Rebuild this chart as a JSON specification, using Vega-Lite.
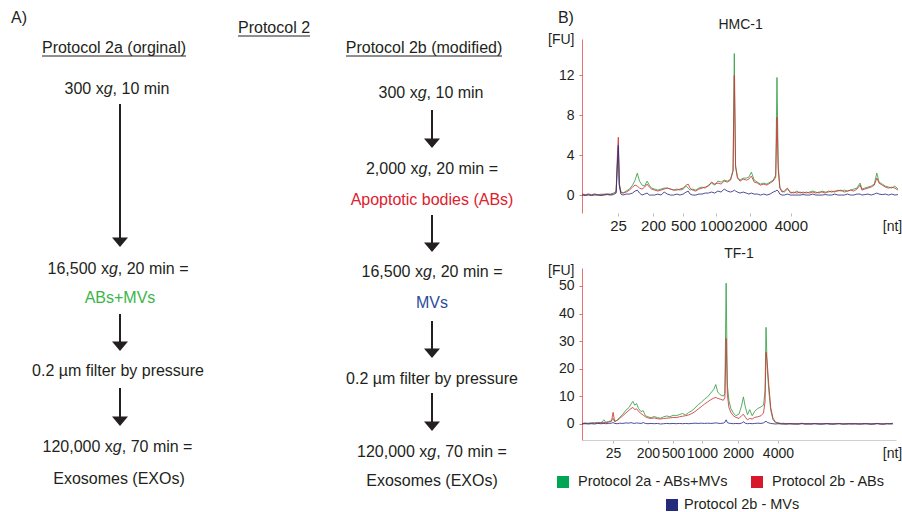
{
  "$schema": "https://vega.github.io/schema/vega-lite/v6.json",
  "background": "white",
  "padding": 0,
  "spacing": 7,
  "resolve": {"scale": {"color": "independent"}},
  "config": {
    "font": "Liberation Sans",
    "view": {"stroke": null},
    "axis": {"labelFont": "Liberation Sans", "titleFont": "Liberation Sans", "labelColor": "#231f20", "titleColor": "#231f20", "labelFontSize": 14, "titleFontSize": 14, "titleFontWeight": "normal", "grid": false},
    "title": {"font": "Liberation Sans", "fontSize": 14, "fontWeight": "normal", "color": "#231f20", "offset": 2},
    "text": {"font": "Liberation Sans", "color": "#231f20"}
  },
  "datasets": {
    "underlines": [
      {"x1": 238, "x2": 310, "y": 35},
      {"x1": 42, "x2": 186, "y": 55},
      {"x1": 346, "x2": 502, "y": 55}
    ],
    "arrows": [
      {"x": 120, "y1": 103, "y2": 238, "yh": 241.2},
      {"x": 120, "y1": 313, "y2": 342, "yh": 345.2},
      {"x": 120, "y1": 387, "y2": 417, "yh": 420.2},
      {"x": 432, "y1": 109, "y2": 139, "yh": 142.2},
      {"x": 432, "y1": 214, "y2": 243, "yh": 246.2},
      {"x": 432, "y1": 320, "y2": 349, "yh": 352.2},
      {"x": 432, "y1": 392, "y2": 422, "yh": 425.2}
    ],
    "labels": [
      {"x": 19, "y": 17, "text": "A)", "kind": "step"},
      {"x": 274, "y": 27, "text": "Protocol 2", "kind": "step"},
      {"x": 114, "y": 47, "text": "Protocol 2a (orginal)", "kind": "step"},
      {"x": 424, "y": 47, "text": "Protocol 2b (modified)", "kind": "step"},
      {"x": 120, "y": 297, "text": "ABs+MVs", "kind": "mix"},
      {"x": 118, "y": 370, "text": "0.2 µm filter by pressure", "kind": "step"},
      {"x": 119, "y": 478, "text": "Exosomes (EXOs)", "kind": "step"},
      {"x": 432, "y": 199, "text": "Apoptotic bodies (ABs)", "kind": "abs"},
      {"x": 432, "y": 302, "text": "MVs", "kind": "mvs"},
      {"x": 432, "y": 378, "text": "0.2 µm filter by pressure", "kind": "step"},
      {"x": 432, "y": 480, "text": "Exosomes (EXOs)", "kind": "step"}
    ],
    "glines": [
      {"xg": 103.7, "y": 88, "pre": "300 x", "post": ", 10 min"},
      {"xg": 108.9, "y": 268, "pre": "16,500 x", "post": ", 20 min ="},
      {"xg": 112.85, "y": 446, "pre": "120,000 x", "post": ", 70 min ="},
      {"xg": 417.7, "y": 92, "pre": "300 x", "post": ", 10 min"},
      {"xg": 418.45, "y": 168, "pre": "2,000 x", "post": ", 20 min ="},
      {"xg": 422.9, "y": 271, "pre": "16,500 x", "post": ", 20 min ="},
      {"xg": 427.35, "y": 451, "pre": "120,000 x", "post": ", 70 min ="}
    ],
    "hmcText": [
      {"t": -5.1, "fu": 17.8, "label": "B)", "role": "panel"},
      {"t": 50.2, "fu": 17.07, "label": "HMC-1", "role": "title"}
    ],
    "hmc": [
      {"t": 0, "g": 0.1, "r": 0.1, "b": 0.0},
      {"t": 1, "g": 0.0, "r": 0.05, "b": -0.05},
      {"t": 2, "g": 0.1, "r": 0.1, "b": 0.0},
      {"t": 3, "g": 0.05, "r": 0.0, "b": -0.05},
      {"t": 4, "g": 0.1, "r": 0.1, "b": 0.0},
      {"t": 5, "g": 0.0, "r": 0.05, "b": 0.0},
      {"t": 6, "g": 0.1, "r": 0.0, "b": -0.05},
      {"t": 7, "g": 0.05, "r": 0.1, "b": 0.0},
      {"t": 8, "g": 0.1, "r": 0.1, "b": 0.05},
      {"t": 9, "g": 0.1, "r": 0.05, "b": 0.0},
      {"t": 10, "g": 0.2, "r": 0.15, "b": 0.05},
      {"t": 10.8, "g": 0.3, "r": 0.4, "b": 0.2},
      {"t": 11.2, "g": 3.0, "r": 4.0, "b": 3.2},
      {"t": 11.5, "g": 4.8, "r": 5.8, "b": 5.0},
      {"t": 11.8, "g": 1.0, "r": 1.2, "b": 1.0},
      {"t": 12.3, "g": 0.3, "r": 0.3, "b": 0.1},
      {"t": 13, "g": 0.2, "r": 0.2, "b": 0.0},
      {"t": 14, "g": 0.4, "r": 0.3, "b": 0.1},
      {"t": 15, "g": 0.6, "r": 0.5, "b": 0.1},
      {"t": 16, "g": 1.0, "r": 0.8, "b": 0.2},
      {"t": 16.8, "g": 1.5, "r": 1.0, "b": 0.4},
      {"t": 17.5, "g": 2.2, "r": 0.9, "b": 0.5},
      {"t": 18.2, "g": 1.4, "r": 0.7, "b": 0.2},
      {"t": 19, "g": 1.0, "r": 0.6, "b": 0.0},
      {"t": 19.8, "g": 0.9, "r": 0.8, "b": 0.1},
      {"t": 20.6, "g": 1.4, "r": 1.1, "b": 0.2},
      {"t": 21.3, "g": 1.0, "r": 0.8, "b": 0.0},
      {"t": 22, "g": 0.7, "r": 0.6, "b": 0.0},
      {"t": 23, "g": 0.6, "r": 0.5, "b": 0.0},
      {"t": 24, "g": 0.5, "r": 0.4, "b": 0.1},
      {"t": 25, "g": 0.6, "r": 0.5, "b": 0.0},
      {"t": 26, "g": 0.7, "r": 0.6, "b": 0.3},
      {"t": 27, "g": 0.7, "r": 0.7, "b": 0.1},
      {"t": 28, "g": 0.6, "r": 0.6, "b": 0.0},
      {"t": 29, "g": 0.5, "r": 0.5, "b": 0.0},
      {"t": 30, "g": 0.6, "r": 0.5, "b": 0.1},
      {"t": 31, "g": 0.5, "r": 0.6, "b": 0.0},
      {"t": 32, "g": 0.6, "r": 0.7, "b": 0.1},
      {"t": 33, "g": 0.9, "r": 1.0, "b": 0.3},
      {"t": 33.6, "g": 0.7, "r": 1.1, "b": 0.4},
      {"t": 34.2, "g": 0.5, "r": 0.7, "b": 0.1},
      {"t": 35, "g": 0.6, "r": 0.5, "b": 0.0},
      {"t": 36, "g": 0.5, "r": 0.4, "b": 0.0},
      {"t": 37, "g": 0.7, "r": 0.6, "b": 0.1},
      {"t": 38, "g": 0.8, "r": 0.7, "b": 0.1},
      {"t": 39, "g": 0.7, "r": 0.8, "b": 0.2},
      {"t": 40, "g": 1.0, "r": 0.9, "b": 0.2},
      {"t": 41, "g": 1.2, "r": 1.3, "b": 0.3},
      {"t": 42, "g": 1.0, "r": 1.1, "b": 0.2},
      {"t": 43, "g": 1.4, "r": 1.2, "b": 0.4},
      {"t": 44, "g": 1.3, "r": 1.1, "b": 0.3},
      {"t": 45, "g": 1.5, "r": 1.4, "b": 0.6},
      {"t": 46, "g": 1.4, "r": 1.3, "b": 0.4},
      {"t": 47, "g": 1.6, "r": 1.5, "b": 0.3},
      {"t": 47.8, "g": 2.5, "r": 2.4, "b": 0.4},
      {"t": 48.2, "g": 14.2, "r": 12.0, "b": 0.5},
      {"t": 48.6, "g": 3.0, "r": 2.8, "b": 0.4},
      {"t": 49.2, "g": 1.8, "r": 1.7, "b": 0.3},
      {"t": 50, "g": 1.5, "r": 1.4, "b": 0.2},
      {"t": 51, "g": 1.7, "r": 1.6, "b": 0.3},
      {"t": 52, "g": 1.7, "r": 1.5, "b": 0.2},
      {"t": 52.8, "g": 1.8, "r": 1.6, "b": 0.1},
      {"t": 53.6, "g": 2.3, "r": 1.9, "b": 0.2},
      {"t": 54.5, "g": 1.5, "r": 1.3, "b": 0.1},
      {"t": 55.5, "g": 1.3, "r": 1.2, "b": 0.1},
      {"t": 56.5, "g": 1.1, "r": 1.0, "b": 0.0},
      {"t": 57.5, "g": 1.2, "r": 1.1, "b": 0.1},
      {"t": 58.5, "g": 1.1, "r": 1.0, "b": 0.0},
      {"t": 59.5, "g": 1.3, "r": 1.2, "b": 0.1},
      {"t": 60.5, "g": 1.5, "r": 1.4, "b": 0.3},
      {"t": 61.3, "g": 2.0, "r": 1.8, "b": 0.4},
      {"t": 61.7, "g": 11.8, "r": 7.8, "b": 0.5},
      {"t": 62.1, "g": 3.0, "r": 2.5, "b": 0.4},
      {"t": 62.6, "g": 0.8, "r": 0.7, "b": 0.1},
      {"t": 63.3, "g": 0.4, "r": 0.3, "b": 0.0},
      {"t": 64, "g": 0.3, "r": 0.4, "b": 0.0},
      {"t": 65, "g": 0.6, "r": 0.7, "b": 0.1},
      {"t": 66, "g": 0.3, "r": 0.2, "b": 0.0},
      {"t": 67, "g": 0.2, "r": 0.3, "b": 0.0},
      {"t": 68, "g": 0.4, "r": 0.2, "b": 0.0},
      {"t": 69, "g": 0.2, "r": 0.3, "b": 0.0},
      {"t": 70, "g": 0.3, "r": 0.2, "b": 0.05},
      {"t": 71, "g": 0.2, "r": 0.3, "b": 0.0},
      {"t": 72, "g": 0.3, "r": 0.2, "b": 0.0},
      {"t": 73, "g": 0.4, "r": 0.3, "b": 0.1},
      {"t": 74, "g": 0.3, "r": 0.2, "b": 0.0},
      {"t": 75, "g": 0.2, "r": 0.3, "b": 0.0},
      {"t": 76, "g": 0.4, "r": 0.3, "b": 0.0},
      {"t": 77, "g": 0.3, "r": 0.2, "b": 0.05},
      {"t": 78, "g": 0.3, "r": 0.4, "b": 0.0},
      {"t": 79, "g": 0.4, "r": 0.3, "b": 0.0},
      {"t": 80, "g": 0.3, "r": 0.4, "b": 0.1},
      {"t": 81, "g": 0.5, "r": 0.4, "b": 0.0},
      {"t": 82, "g": 0.4, "r": 0.5, "b": 0.0},
      {"t": 83, "g": 0.5, "r": 0.3, "b": 0.0},
      {"t": 84, "g": 0.4, "r": 0.4, "b": 0.1},
      {"t": 85, "g": 0.5, "r": 0.5, "b": 0.0},
      {"t": 86, "g": 0.6, "r": 0.4, "b": 0.0},
      {"t": 87, "g": 0.7, "r": 0.6, "b": 0.1},
      {"t": 88, "g": 1.2, "r": 1.0, "b": 0.1},
      {"t": 88.6, "g": 0.6, "r": 0.5, "b": 0.0},
      {"t": 89.5, "g": 0.7, "r": 0.6, "b": 0.05},
      {"t": 90.5, "g": 0.8, "r": 0.7, "b": 0.1},
      {"t": 91.5, "g": 0.9, "r": 0.8, "b": 0.0},
      {"t": 92.5, "g": 1.1, "r": 1.0, "b": 0.1},
      {"t": 93.3, "g": 2.2, "r": 1.7, "b": 0.2},
      {"t": 94, "g": 1.3, "r": 1.2, "b": 0.1},
      {"t": 95, "g": 1.1, "r": 1.0, "b": 0.05},
      {"t": 96, "g": 0.9, "r": 0.8, "b": 0.1},
      {"t": 97, "g": 0.8, "r": 0.7, "b": 0.0},
      {"t": 98, "g": 0.7, "r": 0.8, "b": 0.1},
      {"t": 99, "g": 0.9, "r": 0.7, "b": 0.0},
      {"t": 100, "g": 0.6, "r": 0.5, "b": 0.05}
    ],
    "tf1": [
      {"t": 0, "g": 0.2, "r": 0.1, "b": 0.0},
      {"t": 1, "g": 0.4, "r": 0.2, "b": 0.1},
      {"t": 2, "g": 0.1, "r": 0.3, "b": 0.0},
      {"t": 3, "g": 0.5, "r": 0.2, "b": 0.1},
      {"t": 4, "g": 0.3, "r": 0.4, "b": 0.0},
      {"t": 5, "g": 0.6, "r": 0.3, "b": 0.2},
      {"t": 6, "g": 0.4, "r": 0.5, "b": 0.1},
      {"t": 7, "g": 1.5, "r": 0.6, "b": 0.2},
      {"t": 7.6, "g": 0.6, "r": 0.5, "b": 0.1},
      {"t": 8.5, "g": 0.9, "r": 0.7, "b": 0.2},
      {"t": 9.4, "g": 1.2, "r": 1.0, "b": 0.3},
      {"t": 9.9, "g": 2.0, "r": 4.2, "b": 0.5},
      {"t": 10.4, "g": 0.8, "r": 1.0, "b": 0.2},
      {"t": 11.2, "g": 1.4, "r": 1.3, "b": 0.1},
      {"t": 12, "g": 2.4, "r": 2.0, "b": 0.3},
      {"t": 13, "g": 3.5, "r": 3.0, "b": 0.2},
      {"t": 14, "g": 5.0, "r": 4.0, "b": 0.4},
      {"t": 15, "g": 6.0, "r": 5.0, "b": 0.3},
      {"t": 15.6, "g": 7.2, "r": 5.6, "b": 0.5},
      {"t": 16.2, "g": 8.2, "r": 6.0, "b": 0.3},
      {"t": 16.8, "g": 6.8, "r": 5.2, "b": 0.2},
      {"t": 17.4, "g": 7.4, "r": 5.5, "b": 0.4},
      {"t": 18, "g": 5.6, "r": 4.6, "b": 0.3},
      {"t": 18.8, "g": 4.5, "r": 3.8, "b": 0.2},
      {"t": 19.5, "g": 4.8, "r": 3.2, "b": 0.5},
      {"t": 20.2, "g": 3.0, "r": 2.6, "b": 0.2},
      {"t": 21, "g": 2.6, "r": 2.2, "b": 0.1},
      {"t": 22, "g": 2.3, "r": 2.0, "b": 0.2},
      {"t": 23, "g": 2.7, "r": 2.2, "b": 0.1},
      {"t": 24, "g": 2.3, "r": 1.9, "b": 0.2},
      {"t": 25, "g": 2.1, "r": 1.8, "b": 0.0},
      {"t": 26, "g": 2.6, "r": 2.0, "b": 0.1},
      {"t": 27, "g": 2.9, "r": 2.1, "b": 0.2},
      {"t": 28, "g": 2.6, "r": 2.2, "b": 0.1},
      {"t": 29, "g": 3.2, "r": 2.4, "b": 0.2},
      {"t": 30, "g": 3.0, "r": 2.3, "b": 0.1},
      {"t": 31, "g": 3.4, "r": 2.6, "b": 0.2},
      {"t": 32, "g": 3.8, "r": 2.8, "b": 0.1},
      {"t": 33, "g": 3.3, "r": 3.0, "b": 0.2},
      {"t": 34, "g": 4.2, "r": 3.3, "b": 0.1},
      {"t": 35, "g": 4.8, "r": 3.8, "b": 0.2},
      {"t": 36, "g": 5.8, "r": 4.5, "b": 0.3},
      {"t": 37, "g": 7.0, "r": 5.4, "b": 0.2},
      {"t": 38, "g": 7.8, "r": 6.3, "b": 0.3},
      {"t": 39, "g": 9.0, "r": 7.2, "b": 0.2},
      {"t": 40, "g": 9.8, "r": 8.0, "b": 0.3},
      {"t": 41, "g": 11.2, "r": 8.8, "b": 0.2},
      {"t": 42, "g": 12.6, "r": 9.4, "b": 0.3},
      {"t": 42.6, "g": 14.3, "r": 9.6, "b": 0.4},
      {"t": 43.2, "g": 11.6, "r": 9.3, "b": 0.3},
      {"t": 44, "g": 10.6, "r": 9.0, "b": 0.2},
      {"t": 45, "g": 10.1, "r": 8.6, "b": 0.3},
      {"t": 45.5, "g": 11.0, "r": 9.5, "b": 0.6},
      {"t": 45.9, "g": 51.0, "r": 31.0, "b": 1.5},
      {"t": 46.3, "g": 14.0, "r": 10.5, "b": 0.5},
      {"t": 46.8, "g": 8.5, "r": 6.0, "b": 0.3},
      {"t": 47.4, "g": 5.6, "r": 4.2, "b": 0.2},
      {"t": 48.2, "g": 4.0, "r": 3.0, "b": 0.1},
      {"t": 49, "g": 3.0, "r": 2.4, "b": 0.2},
      {"t": 50, "g": 3.6, "r": 2.0, "b": 0.1},
      {"t": 50.8, "g": 6.5, "r": 3.0, "b": 0.3},
      {"t": 51.4, "g": 9.8, "r": 3.5, "b": 0.8},
      {"t": 52, "g": 6.2, "r": 2.5, "b": 0.3},
      {"t": 52.7, "g": 3.4, "r": 1.5, "b": 0.1},
      {"t": 53.4, "g": 5.2, "r": 2.0, "b": 0.2},
      {"t": 54.2, "g": 3.0, "r": 1.8, "b": 0.1},
      {"t": 55, "g": 4.6, "r": 2.4, "b": 0.2},
      {"t": 56, "g": 5.6, "r": 2.6, "b": 0.3},
      {"t": 57, "g": 6.2, "r": 3.0, "b": 0.2},
      {"t": 57.8, "g": 6.8, "r": 4.0, "b": 0.4},
      {"t": 58.3, "g": 12.0, "r": 8.0, "b": 0.8},
      {"t": 58.6, "g": 35.0, "r": 26.0, "b": 1.0},
      {"t": 59.0, "g": 20.0, "r": 22.0, "b": 0.6},
      {"t": 59.5, "g": 12.0, "r": 14.0, "b": 0.4},
      {"t": 60.1, "g": 5.0, "r": 6.0, "b": 0.2},
      {"t": 60.8, "g": 1.6, "r": 2.2, "b": 0.1},
      {"t": 61.6, "g": 0.5, "r": 0.7, "b": 0.0},
      {"t": 62.5, "g": 0.3, "r": 0.4, "b": 0.1},
      {"t": 63.5, "g": 0.2, "r": 0.1, "b": 0.0},
      {"t": 64, "g": 0.3, "r": 0.1, "b": 0.0},
      {"t": 65, "g": 0.1, "r": 0.2, "b": -0.1},
      {"t": 66, "g": 0.2, "r": 0.0, "b": 0.1},
      {"t": 67, "g": 0.0, "r": 0.2, "b": 0.0},
      {"t": 68, "g": 0.2, "r": 0.1, "b": -0.1},
      {"t": 69, "g": 0.1, "r": 0.0, "b": 0.0},
      {"t": 70, "g": 0.3, "r": 0.2, "b": 0.1},
      {"t": 71, "g": 0.0, "r": 0.1, "b": 0.0},
      {"t": 72, "g": 0.2, "r": 0.2, "b": -0.1},
      {"t": 73, "g": 0.1, "r": 0.0, "b": 0.0},
      {"t": 74, "g": 0.2, "r": 0.1, "b": 0.1},
      {"t": 75, "g": 0.0, "r": 0.2, "b": 0.0},
      {"t": 76, "g": 0.1, "r": 0.1, "b": -0.1},
      {"t": 77, "g": 0.2, "r": 0.0, "b": 0.0},
      {"t": 78, "g": 0.1, "r": 0.2, "b": 0.1},
      {"t": 79, "g": 0.0, "r": 0.1, "b": 0.0},
      {"t": 80, "g": 0.2, "r": 0.0, "b": -0.1},
      {"t": 81, "g": 0.1, "r": 0.2, "b": 0.0},
      {"t": 82, "g": 0.2, "r": 0.1, "b": 0.1},
      {"t": 83, "g": 0.0, "r": 0.0, "b": 0.0},
      {"t": 84, "g": 0.1, "r": 0.2, "b": -0.1},
      {"t": 85, "g": 0.2, "r": 0.1, "b": 0.0},
      {"t": 86, "g": 0.0, "r": 0.0, "b": 0.1},
      {"t": 87, "g": 0.1, "r": 0.2, "b": 0.0},
      {"t": 88, "g": 0.2, "r": 0.1, "b": -0.1},
      {"t": 89, "g": 0.1, "r": 0.0, "b": 0.0},
      {"t": 90, "g": 0.0, "r": 0.2, "b": 0.1},
      {"t": 91, "g": 0.2, "r": 0.1, "b": 0.0},
      {"t": 92, "g": 0.1, "r": 0.0, "b": -0.1},
      {"t": 93, "g": 0.0, "r": 0.1, "b": 0.0},
      {"t": 94, "g": 0.2, "r": 0.2, "b": 0.1},
      {"t": 95, "g": 0.1, "r": 0.0, "b": 0.0},
      {"t": 96, "g": 0.0, "r": 0.1, "b": -0.1},
      {"t": 97, "g": 0.2, "r": 0.2, "b": 0.0},
      {"t": 98, "g": 0.1, "r": 0.0, "b": 0.1},
      {"t": 99, "g": 0.3, "r": 0.2, "b": 0.0}
    ],
    "legendItems": [
      {"s": "g", "sx": -19, "tx": -4, "ly": 6, "label": "Protocol 2a - ABs+MVs"},
      {"s": "r", "sx": 175, "tx": 190, "ly": 6, "label": "Protocol 2b - ABs"},
      {"s": "b", "sx": 90, "tx": 102, "ly": 29, "label": "Protocol 2b - MVs"}
    ]
  },
  "hconcat": [
    {
      "width": 540,
      "height": 474,
      "layer": [
        {
          "data": {"name": "underlines"},
          "mark": {"type": "rule", "strokeWidth": 1, "color": "#231f20"},
          "encoding": {
            "x": {"field": "x1", "type": "quantitative", "scale": {"domain": [0, 540], "nice": false, "zero": false}, "axis": null},
            "x2": {"field": "x2"},
            "y": {"field": "y", "type": "quantitative", "scale": {"domain": [38, 512], "reverse": true, "nice": false, "zero": false}, "axis": null}
          }
        },
        {
          "data": {"name": "arrows"},
          "mark": {"type": "rule", "strokeWidth": 2, "color": "#231f20"},
          "encoding": {
            "x": {"field": "x", "type": "quantitative", "scale": {"domain": [0, 540], "nice": false, "zero": false}, "axis": null},
            "y": {"field": "y1", "type": "quantitative", "scale": {"domain": [38, 512], "reverse": true, "nice": false, "zero": false}, "axis": null},
            "y2": {"field": "y2"}
          }
        },
        {
          "data": {"name": "arrows"},
          "mark": {"type": "point", "shape": "M-1,-0.6L1,-0.6L0,0.6Z", "filled": true, "size": 256, "color": "#231f20", "opacity": 1},
          "encoding": {
            "x": {"field": "x", "type": "quantitative", "scale": {"domain": [0, 540], "nice": false, "zero": false}, "axis": null},
            "y": {"field": "yh", "type": "quantitative", "scale": {"domain": [38, 512], "reverse": true, "nice": false, "zero": false}, "axis": null}
          }
        },
        {
          "data": {"name": "labels"},
          "mark": {"type": "text", "fontSize": 16, "align": "center", "baseline": "middle"},
          "encoding": {
            "x": {"field": "x", "type": "quantitative", "scale": {"domain": [0, 540], "nice": false, "zero": false}, "axis": null},
            "y": {"field": "y", "type": "quantitative", "scale": {"domain": [38, 512], "reverse": true, "nice": false, "zero": false}, "axis": null},
            "text": {"field": "text"},
            "color": {"field": "kind", "type": "nominal", "scale": {"domain": ["step", "mix", "abs", "mvs"], "range": ["#231f20", "#3ab54a", "#e0202e", "#2b4b9b"]}, "legend": null}
          }
        },
        {
          "data": {"name": "glines"},
          "mark": {"type": "text", "fontSize": 16, "align": "right", "baseline": "middle", "color": "#231f20"},
          "encoding": {
            "x": {"field": "xg", "type": "quantitative", "scale": {"domain": [0, 540], "nice": false, "zero": false}, "axis": null},
            "y": {"field": "y", "type": "quantitative", "scale": {"domain": [38, 512], "reverse": true, "nice": false, "zero": false}, "axis": null},
            "text": {"field": "pre"}
          }
        },
        {
          "data": {"name": "glines"},
          "mark": {"type": "text", "fontSize": 16, "align": "left", "baseline": "middle", "fontStyle": "italic", "color": "#231f20"},
          "encoding": {
            "x": {"field": "xg", "type": "quantitative", "scale": {"domain": [0, 540], "nice": false, "zero": false}, "axis": null},
            "y": {"field": "y", "type": "quantitative", "scale": {"domain": [38, 512], "reverse": true, "nice": false, "zero": false}, "axis": null},
            "text": {"value": "g"}
          }
        },
        {
          "data": {"name": "glines"},
          "mark": {"type": "text", "fontSize": 16, "align": "left", "baseline": "middle", "dx": 8.9, "color": "#231f20"},
          "encoding": {
            "x": {"field": "xg", "type": "quantitative", "scale": {"domain": [0, 540], "nice": false, "zero": false}, "axis": null},
            "y": {"field": "y", "type": "quantitative", "scale": {"domain": [38, 512], "reverse": true, "nice": false, "zero": false}, "axis": null},
            "text": {"field": "post"}
          }
        }
      ]
    },
    {
      "spacing": 14,
      "resolve": {"scale": {"color": "independent"}},
      "vconcat": [
        {
          "width": 316,
          "height": 174,
          "layer": [
            {
              "data": {"name": "hmc"},
              "transform": [{"fold": ["g", "r", "b"], "as": ["s", "fu"]}],
              "mark": {"type": "line", "strokeWidth": 1, "strokeOpacity": 0.85},
              "encoding": {
                "x": {"field": "t", "type": "quantitative", "scale": {"domain": [0, 100], "nice": false, "zero": false},
                  "axis": {"values": [11.4, 22.5, 32.0, 42.4, 53.2, 66.1], "labelExpr": "datum.value < 15 ? '25' : datum.value < 27 ? '200' : datum.value < 37 ? '500' : datum.value < 47 ? '1000' : datum.value < 60 ? '2000' : '4000'", "labelFontSize": 15, "labelOverlap": false, "labelFlush": false, "domain": false, "ticks": true, "tickSize": 3, "tickColor": "#bbbbbb", "labelPadding": 2, "title": "[nt]", "titleAngle": 0, "titleX": 310, "titleY": 13, "titleBaseline": "middle", "titleAlign": "center"}},
                "y": {"field": "fu", "type": "quantitative", "scale": {"domain": [-1.8, 15.66], "nice": false, "zero": false},
                  "axis": {"values": [0, 2, 4, 6, 8, 10, 12, 14], "domainColor": "#e57373", "tickColor": "#e57373", "tickSize": 3, "labelPadding": 5, "title": "[FU]", "titleAngle": 0, "titleAlign": "right", "titleBaseline": "middle", "titleX": -8, "titleY": 0}},
                "color": {"field": "s", "type": "nominal", "scale": {"domain": ["g", "r", "b"], "range": ["#37a047", "#d0353a", "#2d2f85"]}, "legend": null}
              }
            },
            {
              "data": {"name": "hmcText"},
              "mark": {"type": "text", "baseline": "middle", "align": "center"},
              "encoding": {
                "x": {"field": "t", "type": "quantitative", "scale": {"domain": [0, 100], "nice": false, "zero": false}},
                "y": {"field": "fu", "type": "quantitative", "scale": {"domain": [-1.8, 15.66], "nice": false, "zero": false}},
                "text": {"field": "label"},
                "size": {"condition": {"test": "datum.role === 'panel'", "value": 16}, "value": 14}
              }
            },
            {
              "data": {"values": [{"t": 0, "fu": 19.48, "label": "B)"}]},
              "mark": {"type": "text", "align": "left", "baseline": "top", "fontSize": 10, "opacity": 0},
              "encoding": {
                "x": {"field": "t", "type": "quantitative", "scale": {"domain": [0, 100], "nice": false, "zero": false}},
                "y": {"field": "fu", "type": "quantitative", "scale": {"domain": [-1.8, 15.66], "nice": false, "zero": false}},
                "text": {"field": "label"}
              }
            }
          ]
        },
        {
          "width": 314,
          "height": 172,
          "title": {"text": "TF-1"},
          "data": {"name": "tf1"},
          "transform": [{"fold": ["g", "r", "b"], "as": ["s", "fu"]}],
          "mark": {"type": "line", "strokeWidth": 1, "strokeOpacity": 0.85},
          "encoding": {
            "x": {"field": "t", "type": "quantitative", "scale": {"domain": [0, 100], "nice": false, "zero": false},
              "axis": {"values": [9.9, 21.0, 29.0, 38.2, 49.7, 62.4], "labelExpr": "datum.value < 15 ? '25' : datum.value < 25 ? '200' : datum.value < 34 ? '500' : datum.value < 45 ? '1000' : datum.value < 55 ? '2000' : '4000'", "labelOverlap": false, "labelFlush": false, "domain": true, "domainColor": "#d0d0d0", "ticks": true, "tickSize": 3, "tickColor": "#bbbbbb", "labelPadding": 3, "title": "[nt]", "titleAngle": 0, "titleX": 310, "titleY": 13, "titleBaseline": "middle", "titleAlign": "center"}},
            "y": {"field": "fu", "type": "quantitative", "scale": {"domain": [-5.8, 56.5], "nice": false, "zero": false},
              "axis": {"values": [0, 10, 20, 30, 40, 50], "domainColor": "#e57373", "tickColor": "#e57373", "tickSize": 3, "labelPadding": 5, "title": "[FU]", "titleAngle": 0, "titleAlign": "right", "titleBaseline": "middle", "titleX": -8, "titleY": 2}},
            "color": {"field": "s", "type": "nominal", "scale": {"domain": ["g", "r", "b"], "range": ["#37a047", "#d0353a", "#2d2f85"]}, "legend": null}
          }
        },
        {
          "width": 316,
          "height": 36,
          "data": {"name": "legendItems"},
          "layer": [
            {
              "mark": {"type": "point", "shape": "square", "size": 144, "filled": true, "opacity": 1},
              "encoding": {
                "x": {"field": "sx", "type": "quantitative", "scale": {"domain": [0, 316], "nice": false, "zero": false}, "axis": null},
                "y": {"field": "ly", "type": "quantitative", "scale": {"domain": [0, 36], "reverse": true, "nice": false, "zero": false}, "axis": null},
                "color": {"field": "s", "type": "nominal", "scale": {"domain": ["g", "r", "b"], "range": ["#00a651", "#d7182a", "#262a7a"]}, "legend": null}
              }
            },
            {
              "mark": {"type": "text", "align": "left", "baseline": "middle", "fontSize": 14.5},
              "encoding": {
                "x": {"field": "tx", "type": "quantitative", "scale": {"domain": [0, 316], "nice": false, "zero": false}, "axis": null},
                "y": {"field": "ly", "type": "quantitative", "scale": {"domain": [0, 36], "reverse": true, "nice": false, "zero": false}, "axis": null},
                "text": {"field": "label"}
              }
            }
          ]
        }
      ]
    }
  ]
}
